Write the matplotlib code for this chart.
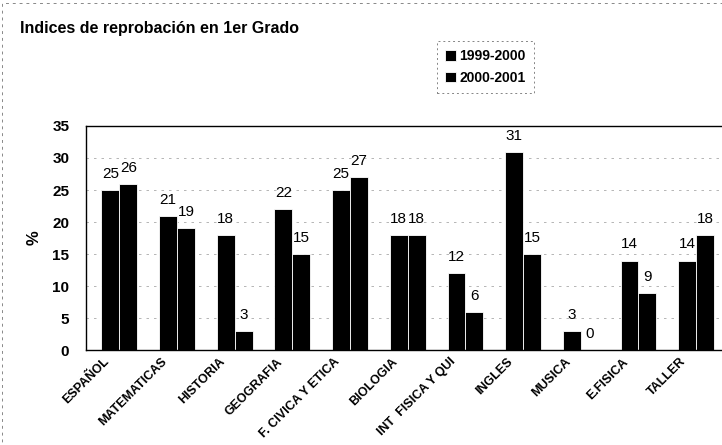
import matplotlib.pyplot as plt
import matplotlib.transforms as mtransforms
from matplotlib.patches import Rectangle
import numpy as np

materias = ['ESPAÑOL', 'MATEMATICAS', 'HISTORIA', 'GEOGRAFIA', 'F. CIVICA Y ETICA',
            'BIOLOGIA', 'INT  FISICA Y QUI', 'INGLES', 'MUSICA', 'E.FISICA', 'TALLER']
ciclo_99 = [25, 21, 18, 22, 25, 18, 12, 31, 3, 14, 14]
ciclo_00 = [26, 19, 3, 15, 27, 18, 6, 15, 0, 9, 18]
series = ['1999-2000', '2000-2001']

plt.rcParams['font.family'] = ['Liberation Sans', 'DejaVu Sans']

fig = plt.figure(figsize=(7.22, 4.45), dpi=100)
ax = fig.add_axes([0.119, 0.213, 0.885, 0.504])

# dashed outer frame like the scanned page
fig.patches.append(Rectangle((0.003, -0.1), 1.2, 1.093, transform=fig.transFigure,
                             fill=False, edgecolor='#888888', linewidth=0.7,
                             linestyle=(0, (3, 4))))

x = np.arange(len(materias))
w = 0.31
b1 = ax.bar(x - w / 2, ciclo_99, w, color='black', edgecolor='white', linewidth=0.6, label=series[0])
b2 = ax.bar(x + w / 2, ciclo_00, w, color='black', edgecolor='white', linewidth=0.6, label=series[1])

for bars in (b1, b2):
    for r in bars:
        ax.annotate(f'{int(r.get_height())}', (r.get_x() + r.get_width() / 2, r.get_height()),
                    xytext=(0, 6.5), textcoords='offset points', ha='center', va='bottom',
                    fontsize=11)

ax.set_xlim(-0.58, len(materias) - 0.5)
ax.set_ylim(0, 35)
ax.set_yticks(range(0, 36, 5))
ax.yaxis.grid(True, linestyle=(0, (3, 6)), color='#aaaaaa', linewidth=0.6)
ax.set_axisbelow(True)
ax.tick_params(axis='y', length=0, labelsize=11, pad=12)
ax.tick_params(axis='x', length=0, labelsize=9, pad=4)
for lbl in ax.get_yticklabels():
    lbl.set_fontweight('bold')
ax.set_xticks(x)
ax.set_xticklabels(materias, rotation=45, ha='right', rotation_mode='anchor')
shift = mtransforms.ScaledTranslation(-0.16, 0.0, fig.dpi_scale_trans)
for lbl in ax.get_xticklabels():
    lbl.set_fontweight('bold')
    lbl.set_transform(lbl.get_transform() + shift)
ax.set_ylabel('%', fontsize=12, fontweight='bold', labelpad=8)
for s in ax.spines.values():
    s.set_linewidth(1.0)

fig.text(0.028, 0.935, 'Indices de reprobación en 1er Grado', fontsize=11.5,
         fontweight='bold', va='center')
leg = fig.legend(loc='upper left', bbox_to_anchor=(0.605, 0.908), frameon=True,
                 fontsize=10, handlelength=0.8, handleheight=0.8, handletextpad=0.2,
                 borderpad=0.6, borderaxespad=0, labelspacing=0.55, fancybox=False)
leg.get_frame().set_edgecolor('#666666')
leg.get_frame().set_linestyle((0, (2, 3)))
leg.get_frame().set_linewidth(0.7)
for t in leg.get_texts():
    t.set_fontweight('bold')

fig.savefig('out.png', dpi=100)
